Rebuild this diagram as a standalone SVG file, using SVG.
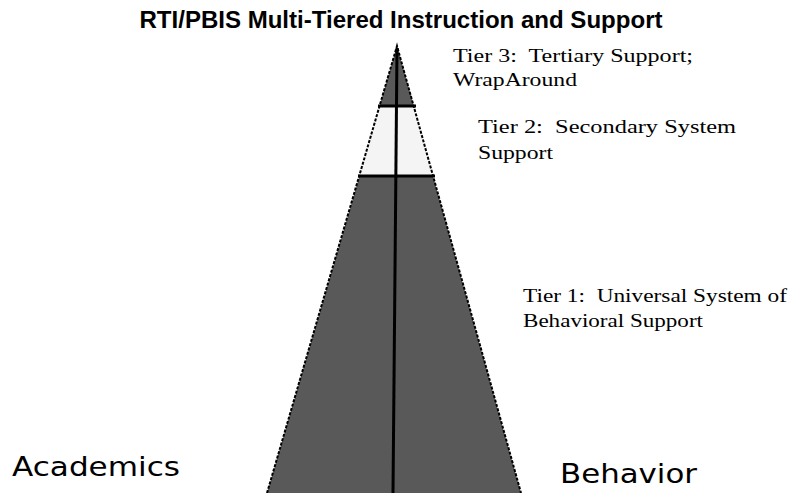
<svg xmlns="http://www.w3.org/2000/svg" width="797" height="493" viewBox="0 0 797 493">
  <style>
    .title { font-family: "Liberation Sans", Arial, sans-serif; font-weight: bold; font-size: 24px; fill: #000; }
    .tier { font-family: "Liberation Serif", "Times New Roman", serif; font-size: 18.5px; fill: #000; white-space: pre; }
    .side { font-family: "DejaVu Sans", Verdana, sans-serif; font-size: 27px; fill: #000; }
    .dark { fill: #595959; }
    .light { fill: #f4f4f4; }
    .edge { fill: none; stroke: #000; stroke-width: 2; stroke-dasharray: 3 1.5; }
    .axis { stroke: #000; stroke-width: 3; }
    .band { stroke: #000; stroke-width: 3; }
  </style>
  <rect width="797" height="493" fill="#fff"/>

  <text class="title" x="401" y="28" text-anchor="middle" textLength="523" lengthAdjust="spacingAndGlyphs">RTI/PBIS Multi-Tiered Instruction and Support</text>

  <!-- pyramid: apex (397,46), base y=493 from 267 to 521 -->
  <g id="tier1">
    <polygon class="dark" points="359.5,176 433,176 521,493 267,493"/>
  </g>
  <g id="tier2">
    <polygon class="light" points="379.5,106 414,106 433,176 359.5,176"/>
  </g>
  <g id="tier3">
    <polygon class="dark" points="397,46 414,106 379.5,106"/>
  </g>

  <g id="connectors">
    <polyline class="edge" points="267,493 397,46 521,493"/>
    <line class="band" x1="378" y1="106" x2="416" y2="106"/>
    <line class="band" x1="358" y1="176" x2="435" y2="176"/>
    <line class="axis" x1="397" y1="48" x2="393" y2="493"/>
  </g>

  <g id="label-tier3">
    <text class="tier" x="453" y="62" textLength="240" lengthAdjust="spacingAndGlyphs">Tier 3:  Tertiary Support;</text>
    <text class="tier" x="453" y="86" textLength="124" lengthAdjust="spacingAndGlyphs">WrapAround</text>
  </g>
  <g id="label-tier2">
    <text class="tier" x="478" y="133" textLength="258" lengthAdjust="spacingAndGlyphs">Tier 2:  Secondary System</text>
    <text class="tier" x="478" y="159" textLength="75" lengthAdjust="spacingAndGlyphs">Support</text>
  </g>
  <g id="label-tier1">
    <text class="tier" x="523" y="302" textLength="264" lengthAdjust="spacingAndGlyphs">Tier 1:  Universal System of</text>
    <text class="tier" x="523" y="327" textLength="180" lengthAdjust="spacingAndGlyphs">Behavioral Support</text>
  </g>
  <g id="academics">
    <text class="side" x="12" y="476" textLength="168" lengthAdjust="spacingAndGlyphs">Academics</text>
  </g>
  <g id="behavior">
    <text class="side" x="560" y="483" textLength="137" lengthAdjust="spacingAndGlyphs">Behavior</text>
  </g>
</svg>
